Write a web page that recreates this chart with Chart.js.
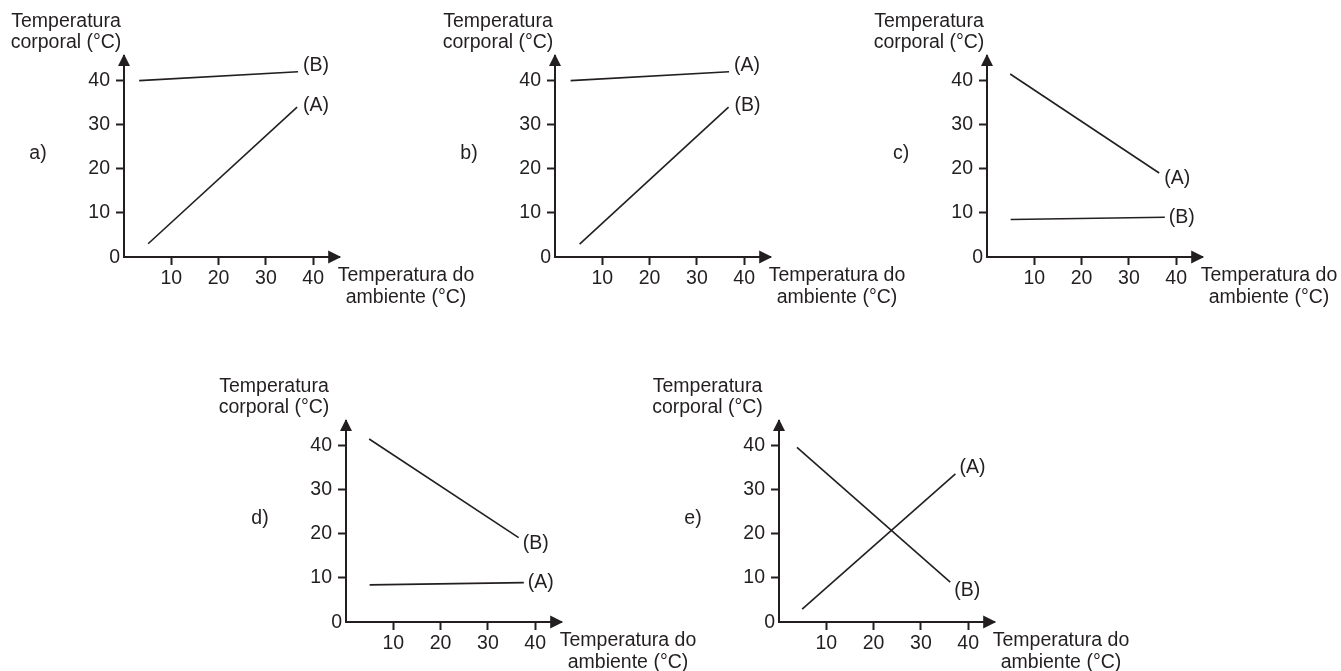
<!DOCTYPE html>
<html>
<head>
<meta charset="utf-8">
<script src="https://cdn.jsdelivr.net/npm/chart.js@4.4.1/dist/chart.umd.min.js"></script>
<style>
    html, body { margin: 0; padding: 0; background: #fff; overflow: hidden; }
    .panel { position: absolute; width: 487px; height: 305px; }
</style>
</head>
<body>
<div class="panel" style="left:-11px;top:6.7px"><canvas id="chartA"></canvas></div>
<div class="panel" style="left:420.3px;top:6.7px"><canvas id="chartB"></canvas></div>
<div class="panel" style="left:852.3px;top:6.7px"><canvas id="chartC"></canvas></div>
<div class="panel" style="left:211px;top:372.3px"><canvas id="chartD"></canvas></div>
<div class="panel" style="left:643.7px;top:372.3px"><canvas id="chartE"></canvas></div>
<script>
// eixos
const ambientTicks = [10, 20, 30, 40];
const bodyTicks = [10, 20, 30, 40];
const originLabel = '0';
const yTitle = ['Temperatura', 'corporal (°C)'];
const xTitle = ['Temperatura do', 'ambiente (°C)'];
const seriesNames = ['(A)', '(B)'];

// [temperatura do ambiente, temperatura corporal]
const aSerieA = [[5.1, 3.0], [36.6, 33.9]];
const aSerieB = [[3.2, 39.9], [36.8, 41.9]];
const bSerieA = [[3.3, 39.9], [36.8, 41.9]];
const bSerieB = [[5.2, 2.9], [36.7, 33.9]];
const cSerieA = [[4.9, 41.4], [36.4, 19.0]];
const cSerieB = [[5.0, 8.5], [37.6, 9.0]];
const dSerieA = [[5.0, 8.4], [37.6, 8.9]];
const dSerieB = [[4.9, 41.4], [36.5, 19.1]];
const eSerieA = [[4.9, 2.9], [37.3, 33.5]];
const eSerieB = [[3.8, 39.5], [36.2, 9.0]];

const ink = '#231f20';
const fontFamily = '"Liberation Sans", Arial, Helvetica, sans-serif';
const fontSize = 19.5;

const sketchPlugin = {
    id: 'sketch',
    afterDraw(chart, args, opts) {
        const ctx = chart.ctx;
        const area = chart.chartArea;
        const L = area.left, B = area.bottom, R = area.right, T = area.top;
        ctx.save();
        ctx.fillStyle = ink;

        // setas
        ctx.beginPath();
        ctx.moveTo(L, T - 2);
        ctx.lineTo(L - 6, T + 10);
        ctx.lineTo(L + 6, T + 10);
        ctx.closePath();
        ctx.fill();
        ctx.beginPath();
        ctx.moveTo(R + 2, B);
        ctx.lineTo(R - 11, B - 6.5);
        ctx.lineTo(R - 11, B + 6.5);
        ctx.closePath();
        ctx.fill();

        ctx.font = fontSize + 'px ' + fontFamily;
        ctx.textBaseline = 'middle';

        ctx.textAlign = 'center';
        ctx.fillText(opts.letter, L - 86, B - 103);
        ctx.fillText(yTitle[0], L - opts.yTitleShift, B - 235.7);
        ctx.fillText(yTitle[1], L - opts.yTitleShift, B - 214);
        ctx.fillText(xTitle[0], L + 282, B + 18.5);
        ctx.fillText(xTitle[1], L + 282, B + 41);

        ctx.textAlign = 'right';
        ctx.fillText(originLabel, L - 4, B + 1);

        ctx.textAlign = 'left';
        chart.data.datasets.forEach((ds, i) => {
            const meta = chart.getDatasetMeta(i);
            const last = meta.data[meta.data.length - 1];
            const off = opts.labelOffsets[i];
            ctx.fillText(ds.label, last.x + off[0], last.y + off[1]);
        });
        ctx.restore();
    }
};

function toPoints(arr) {
    return arr.map(p => ({ x: p[0], y: p[1] }));
}

function axisOptions(tickValues, isY) {
    return {
        type: 'linear',
        min: 0,
        max: 45.5,
        afterBuildTicks: (scale) => {
            scale.ticks = tickValues.map(v => ({ value: v }));
        },
        afterFit: (scale) => {
            if (isY) {
                scale.width = 40;
            } else {
                scale.height = 40;
            }
        },
        ticks: {
            color: ink,
            padding: isY ? 6 : 1.5,
            autoSkip: false,
            maxRotation: 0,
            font: { family: fontFamily, size: fontSize }
        },
        grid: {
            drawOnChartArea: false,
            drawTicks: true,
            tickLength: 8,
            tickWidth: 2,
            color: ink
        },
        border: { display: true, width: 2, color: ink }
    };
}

function makePanel(canvasId, letter, serieA, serieB, yTitleShift, labelOffsets) {
    const lineStyle = {
        showLine: true,
        borderColor: ink,
        borderWidth: 1.6,
        pointRadius: 0,
        fill: false
    };
    new Chart(document.getElementById(canvasId), {
        type: 'scatter',
        data: {
            datasets: [
                Object.assign({ label: seriesNames[0], data: toPoints(serieA) }, lineStyle),
                Object.assign({ label: seriesNames[1], data: toPoints(serieB) }, lineStyle)
            ]
        },
        options: {
            responsive: true,
            maintainAspectRatio: false,
            animation: false,
            layout: { padding: { left: 95, top: 48.9, right: 136.8, bottom: 15 } },
            plugins: {
                legend: { display: false },
                tooltip: { enabled: false },
                sketch: { letter: letter, yTitleShift: yTitleShift, labelOffsets: labelOffsets }
            },
            scales: {
                x: axisOptions(ambientTicks, false),
                y: axisOptions(bodyTicks, true)
            }
        },
        plugins: [sketchPlugin]
    });
}

makePanel('chartA', 'a)', aSerieA, aSerieB, 58, [[6, -2], [5, -6]]);
makePanel('chartB', 'b)', bSerieA, bSerieB, 57, [[5, -6], [6, -2]]);
makePanel('chartC', 'c)', cSerieA, cSerieB, 58, [[5, 6], [4, 0]]);
makePanel('chartD', 'd)', dSerieA, dSerieB, 72, [[4, 0], [4, 6]]);
makePanel('chartE', 'e)', eSerieA, eSerieB, 71.5, [[4, -6], [4, 8]]);
</script>
</body>
</html>
